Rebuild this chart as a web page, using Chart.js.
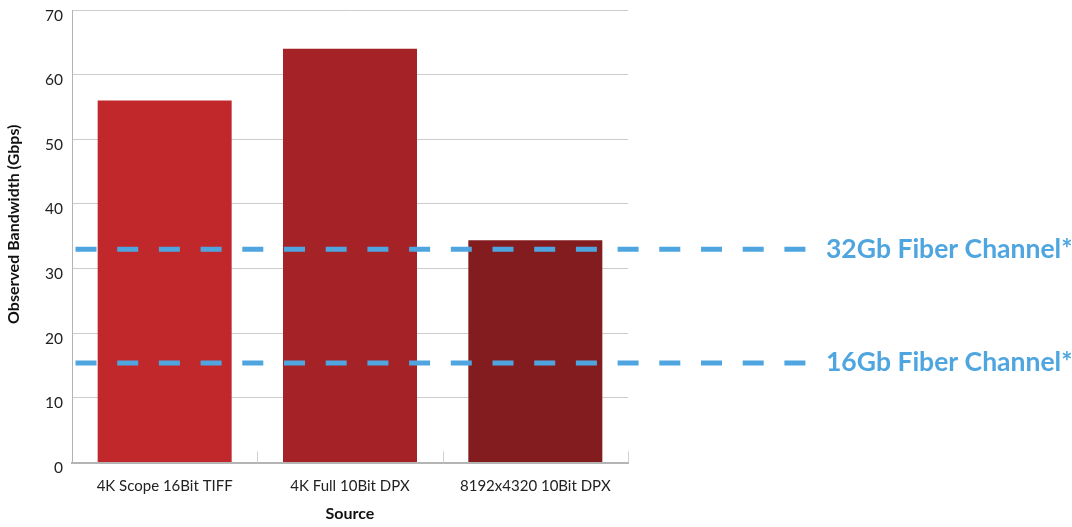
<!DOCTYPE html>
<html>
<head>
<meta charset="utf-8">
<script src="https://cdn.jsdelivr.net/npm/chart.js@4/dist/chart.umd.min.js"></script>
<style>
  html, body { margin: 0; padding: 0; background: #ffffff; }
  #wrap { width: 1072px; height: 527px; position: relative; }
</style>
</head>
<body>
<div id="wrap"><canvas id="chart" width="1072" height="527"></canvas></div>
<script>
// Observed bandwidth per source format
const categories = ['4K Scope 16Bit TIFF', '4K Full 10Bit DPX', '8192x4320 10Bit DPX'];
const bandwidth = [56, 64, 34.4];
const barColors = ['#c1282c', '#a52227', '#831c1f'];

// Fibre Channel reference levels
const channelValues = [33, 15.4];
const channelLabels = ['32Gb Fiber Channel*', '16Gb Fiber Channel*'];

const yTicks = [0, 10, 20, 30, 40, 50, 60, 70];
const yTitle = 'Observed Bandwidth (Gbps)';

const FONT = 'Lato, "Open Sans", sans-serif';
const LINE_BLUE = '#4ea5df';

// Dashed reference lines that run past the plot into the right margin, with labels
const referenceLines = {
  id: 'referenceLines',
  afterDatasetsDraw(chart) {
    const { ctx, chartArea, scales } = chart;
    const x0 = chartArea.left + 3.5;
    const x1 = chartArea.right + 178;
    ctx.save();
    channelValues.forEach((v, i) => {
      const y = scales.y.getPixelForValue(v);
      ctx.beginPath();
      ctx.setLineDash([21, 20.7]);
      ctx.lineWidth = 5;
      ctx.lineCap = 'butt';
      ctx.strokeStyle = LINE_BLUE;
      ctx.moveTo(x0, y);
      ctx.lineTo(x1, y);
      ctx.stroke();
      ctx.setLineDash([]);
      ctx.fillStyle = LINE_BLUE;
      ctx.font = 'bold 26.5px ' + FONT;
      ctx.textAlign = 'left';
      ctx.textBaseline = 'middle';
      ctx.fillText(channelLabels[i], x1 + 20, y);
    });
    ctx.restore();
  }
};

// Short inward tick marks at category boundaries along the baseline
const boundaryTicks = {
  id: 'boundaryTicks',
  beforeDatasetsDraw(chart) {
    const { ctx, chartArea, scales } = chart;
    const xs = scales.x;
    const step = (xs.getPixelForValue(1) - xs.getPixelForValue(0));
    ctx.save();
    ctx.strokeStyle = '#d0d0d0';
    ctx.lineWidth = 1;
    for (let i = 1; i <= categories.length; i++) {
      const x = Math.round(xs.getPixelForValue(i) - step / 2) + 0.5;
      ctx.beginPath();
      ctx.moveTo(x, chartArea.bottom);
      ctx.lineTo(x, chartArea.bottom - 11);
      ctx.stroke();
    }
    ctx.restore();
  }
};

// Rotated value-axis title, sitting a little above the plot's midline
const valueAxisTitle = {
  id: 'valueAxisTitle',
  afterDraw(chart) {
    const { ctx, chartArea } = chart;
    const cy = (chartArea.top + chartArea.bottom) / 2 - 12;
    ctx.save();
    ctx.translate(14, cy);
    ctx.rotate(-Math.PI / 2);
    ctx.fillStyle = '#111111';
    ctx.font = 'bold 16px ' + FONT;
    ctx.textAlign = 'center';
    ctx.textBaseline = 'middle';
    ctx.fillText(yTitle, 0, 0);
    ctx.restore();
  }
};

new Chart(document.getElementById('chart'), {
  type: 'bar',
  data: {
    labels: categories,
    datasets: [{
      label: 'Observed Bandwidth',
      data: bandwidth,
      backgroundColor: barColors,
      borderWidth: 0,
      barPercentage: 0.723,
      categoryPercentage: 1.0
    }]
  },
  options: {
    responsive: false,
    animation: false,
    devicePixelRatio: 1,
    layout: { padding: { left: 0, right: 444, top: 10, bottom: 0 } },
    plugins: {
      legend: { display: false },
      tooltip: { enabled: false }
    },
    scales: {
      x: {
        offset: true,
        grid: { display: false, drawTicks: false },
        border: { display: true, color: '#b4b4b4', width: 2 },
        ticks: {
          color: '#222222',
          font: { family: FONT, size: 15 },
          padding: 15,
          maxRotation: 0
        },
        title: {
          display: true,
          text: 'Source',
          color: '#111111',
          font: { family: FONT, size: 16, weight: 'bold' },
          padding: { top: 4, bottom: 4 }
        },
        afterFit(scale) {
          scale.height = 64.5;
          scale.paddingLeft = 0;
          scale.paddingRight = 0;
        }
      },
      y: {
        min: 0,
        max: 70,
        afterBuildTicks(scale) { scale.ticks = yTicks.map(v => ({ value: v })); },
        grid: { color: '#cccccc', lineWidth: 1, drawTicks: false },
        border: { display: true, color: '#b4b4b4', width: 1 },
        ticks: {
          color: '#222222',
          font: { family: FONT, size: 15.5 },
          padding: 9,
          labelOffset: 5.5
        },
        title: { display: false },
        afterFit(scale) {
          scale.width = 72;
          scale.paddingTop = 0;
          scale.paddingBottom = 0;
        }
      }
    }
  },
  plugins: [boundaryTicks, referenceLines, valueAxisTitle]
});
</script>
</body>
</html>
